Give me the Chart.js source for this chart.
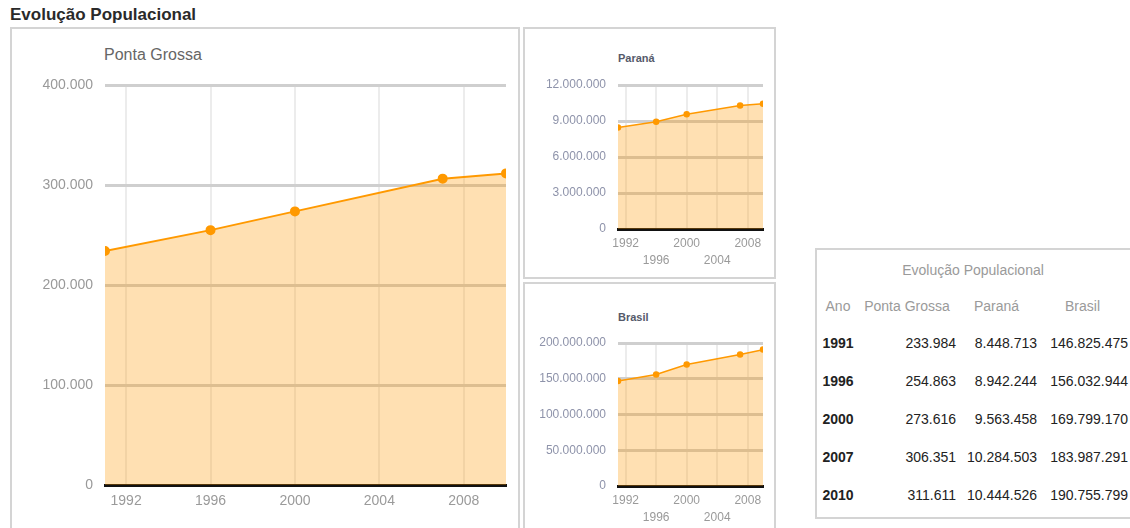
<!DOCTYPE html>
<html>
<head>
<meta charset="utf-8">
<script src="https://cdn.jsdelivr.net/npm/chart.js@4/dist/chart.umd.min.js"></script>
<style>
  body { margin: 0; background: #fff; font-family: "Liberation Sans", Arial, sans-serif; }
  .abs { position: absolute; }
  .box { position: absolute; border: 2px solid #d4d4d4; box-sizing: border-box; }
  #pageTitle { left: 10px; top: 5px; font-size: 17px; font-weight: bold; color: #2a2a2a; }
  .ctitle { position: absolute; color: #666; }
  #tbl { position: absolute; left: 818px; top: 252px; border-collapse: collapse; table-layout: fixed; font-size: 14px; }
  #tbl td { padding: 0; white-space: nowrap; }
</style>
</head>
<body>
<div id="pageTitle" class="abs">Evolução Populacional</div>

<div class="box" style="left:10px;top:27px;width:510px;height:520px;"></div>
<div class="box" style="left:523px;top:27px;width:253px;height:252px;"></div>
<div class="box" style="left:523px;top:282px;width:253px;height:260px;"></div>
<div class="box" style="left:815px;top:248px;width:330px;height:271px;"></div>

<div class="ctitle" style="left:104px;top:46px;font-size:16px;">Ponta Grossa</div>
<div class="ctitle" style="left:618px;top:52px;font-size:11px;font-weight:bold;color:#555a6a;">Paraná</div>
<div class="ctitle" style="left:618px;top:311px;font-size:11px;font-weight:bold;color:#555a6a;">Brasil</div>

<canvas id="cPG" class="abs" width="505" height="499" style="left:12px;top:29px;"></canvas>
<canvas id="cPR" class="abs" width="248" height="247" style="left:525px;top:29px;"></canvas>
<canvas id="cBR" class="abs" width="248" height="244" style="left:525px;top:284px;"></canvas>

<table id="tbl"></table>

<script>
const years = [1991, 1996, 2000, 2007, 2010];
const pontaGrossa = [233984, 254863, 273616, 306351, 311611];
const parana = [8448713, 8942244, 9563458, 10284503, 10444526];
const brasil = [146825475, 156032944, 169799170, 183987291, 190755799];

const xTicks = [1992, 1996, 2000, 2004, 2008];
const pgTicks = [0, 100000, 200000, 300000, 400000];
const prTicks = [0, 3000000, 6000000, 9000000, 12000000];
const brTicks = [0, 50000000, 100000000, 150000000, 200000000];

const tableTitle = 'Evolução Populacional';
const tableHeaders = ['Ano', 'Ponta Grossa', 'Paraná', 'Brasil'];

function fmt(v) {
    return String(Math.round(v)).replace(/\B(?=(\d{3})+(?!\d))/g, '.');
}

function makeChart(id, values, yTicks, opt) {
    const pts = years.map((y, i) => ({ x: y, y: values[i] }));
    return new Chart(document.getElementById(id), {
        type: 'line',
        data: {
            datasets: [{
                data: pts,
                borderColor: '#ff9900',
                backgroundColor: 'rgba(255,153,0,0.3)',
                pointBackgroundColor: '#ff9900',
                pointBorderColor: '#ff9900',
                pointRadius: opt.pointRadius,
                borderWidth: opt.lineWidth,
                fill: 'origin',
                tension: 0
            }]
        },
        options: {
            responsive: false,
            animation: false,
            layout: { padding: { top: opt.top, right: opt.right, left: 0, bottom: 0 } },
            plugins: { legend: { display: false }, tooltip: { enabled: false } },
            scales: {
                x: {
                    type: 'linear',
                    min: 1991,
                    max: 2010,
                    afterBuildTicks: s => { s.ticks = xTicks.map(v => ({ value: v })); },
                    afterFit: s => { s.height = opt.xHeight; },
                    grid: { color: '#ececec', lineWidth: 2, drawTicks: false },
                    border: { display: true, color: '#111', width: 3 },
                    ticks: {
                        autoSkip: false,
                        maxRotation: 0,
                        padding: opt.xPad,
                        color: '#9a9a9a',
                        font: { family: 'Liberation Sans', size: opt.fontSize, lineHeight: 1.4 },
                        callback: (v, i) => opt.stagger && i % 2 === 1 ? ['', String(v)] : String(v)
                    }
                },
                y: {
                    min: 0,
                    max: yTicks[yTicks.length - 1],
                    afterBuildTicks: s => { s.ticks = yTicks.map(v => ({ value: v })); },
                    afterFit: s => { s.width = opt.left; },
                    grid: { color: '#cfcfcf', lineWidth: 3, drawTicks: false },
                    border: { display: false },
                    ticks: {
                        padding: opt.yPad,
                        color: opt.yColor,
                        font: { family: 'Liberation Sans', size: opt.fontSize },
                        callback: v => fmt(v)
                    }
                }
            }
        }
    });
}

makeChart('cPG', pontaGrossa, pgTicks, {
    top: 56, right: 11, left: 93, xHeight: 43, xPad: 6, yPad: 12,
    fontSize: 14, pointRadius: 4, lineWidth: 2, stagger: false, yColor: '#999'
});
makeChart('cPR', parana, prTicks, {
    top: 56, right: 10, left: 93, xHeight: 47, xPad: 6, yPad: 12,
    fontSize: 12, pointRadius: 2.5, lineWidth: 1.5, stagger: true, yColor: '#8e93aa'
});
makeChart('cBR', brasil, brTicks, {
    top: 59, right: 10, left: 93, xHeight: 42, xPad: 6, yPad: 12,
    fontSize: 12, pointRadius: 2.5, lineWidth: 1.5, stagger: true, yColor: '#8e93aa'
});

// tabela
const tbl = document.getElementById('tbl');
const colW = [40, 98, 81, 91];
let html = '<colgroup>' + colW.map(w => '<col style="width:' + w + 'px">').join('') + '</colgroup>';
html += '<tr style="height:36px"><td colspan="4" style="text-align:center;color:#9a9a9a;">' + tableTitle + '</td></tr>';
html += '<tr style="height:36px">' + tableHeaders.map(h => '<td style="text-align:center;color:#9a9a9a;">' + h + '</td>').join('') + '</tr>';
years.forEach((y, i) => {
    html += '<tr style="height:38px">' +
        '<td style="text-align:center;font-weight:bold;color:#222;">' + y + '</td>' +
        '<td style="text-align:right;color:#222;">' + fmt(pontaGrossa[i]) + '</td>' +
        '<td style="text-align:right;color:#222;">' + fmt(parana[i]) + '</td>' +
        '<td style="text-align:right;color:#222;">' + fmt(brasil[i]) + '</td></tr>';
});
tbl.innerHTML = html;
</script>
</body>
</html>
